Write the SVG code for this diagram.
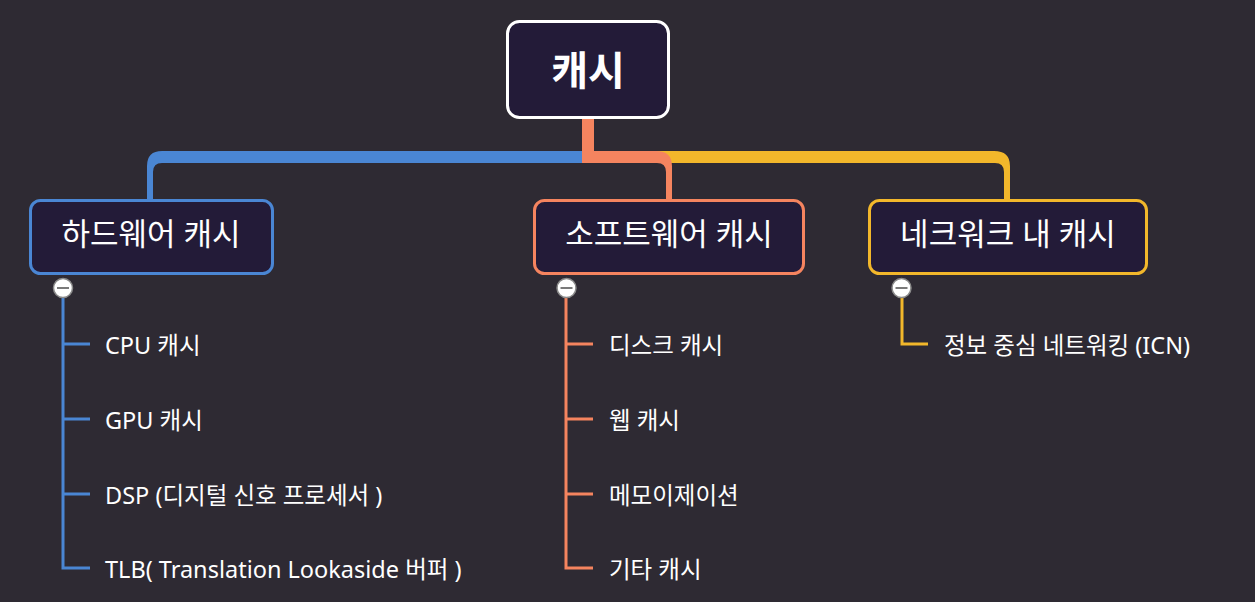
<svg xmlns="http://www.w3.org/2000/svg" width="1255" height="602" viewBox="0 0 1255 602">
<style>
text{font-family:"Noto Sans","Noto Sans CJK KR",sans-serif;fill:#ffffff}
.root{font-size:40px;font-weight:bold}
.main{font-size:31px}
.leaf{font-size:23.5px}
.box{fill:#231b38;stroke-width:3}
.tree{fill:none;stroke-width:3}
.tog circle{fill:#ffffff;stroke:#8a8a8a;stroke-width:1.5}
.tog line{stroke:#7a7a7a;stroke-width:2}
</style>
<rect x="0" y="0" width="1255" height="602" fill="#2e2a33"/>
<g id="connectors">
<path d="M588,151 L162,151 Q147,151 147,166 L147,200 L153,200 L153,172 Q153,163 162,163 L588,163 Z" fill="#4a86d4"/>
<path d="M588,151 L994,151 Q1010,151 1010,166 L1010,200 L1004,200 L1004,172 Q1004,163 995,163 L588,163 Z" fill="#f2b72b"/>
<path d="M582,118 L594,118 L594,151 L656,151 Q672,151 672,166 L672,200 L666,200 L666,172 Q666,163 657,163 L582,163 Z" fill="#f5845f"/>
<g class="tree" stroke="#4a86d4">
<path d="M63,298 L63,568 L90,568 M63,344 L90,344 M63,419 L90,419 M63,494 L90,494"/>
</g>
<g class="tree" stroke="#f5845f">
<path d="M566,298 L566,568 L593,568 M566,344 L593,344 M566,419 L593,419 M566,494 L593,494"/>
</g>
<g class="tree" stroke="#f2b72b">
<path d="M902,298 L902,344 L928,344"/>
</g>
</g>
<g id="root">
<rect x="507.5" y="21.5" width="161" height="96" rx="12" class="box" stroke="#ffffff"/>
<text x="588" y="85" text-anchor="middle" class="root">캐시</text>
</g>
<g id="hardware">
<rect x="30.5" y="200.5" width="242" height="73" rx="10" class="box" stroke="#4a86d4"/>
<text x="151" y="245" text-anchor="middle" class="main">하드웨어 캐시</text>
<g class="tog"><circle cx="63" cy="288" r="9.5"/><line x1="57" y1="288" x2="69" y2="288"/></g>
</g>
<g id="software">
<rect x="534.5" y="200.5" width="269" height="73" rx="10" class="box" stroke="#f5845f"/>
<text x="669" y="245" text-anchor="middle" class="main">소프트웨어 캐시</text>
<g class="tog"><circle cx="566.5" cy="288" r="9.5"/><line x1="560.5" y1="288" x2="572.5" y2="288"/></g>
</g>
<g id="network">
<rect x="869.5" y="200.5" width="277" height="73" rx="10" class="box" stroke="#f2b72b"/>
<text x="1008" y="245" text-anchor="middle" class="main">네크워크 내 캐시</text>
<g class="tog"><circle cx="901.5" cy="288" r="9.5"/><line x1="895.5" y1="288" x2="907.5" y2="288"/></g>
</g>
<g id="cpu"><text x="105" y="354" class="leaf">CPU 캐시</text></g>
<g id="gpu"><text x="105" y="429" class="leaf">GPU 캐시</text></g>
<g id="dsp"><text x="105" y="504" class="leaf">DSP (디지털 신호 프로세서 )</text></g>
<g id="tlb"><text x="105" y="578" class="leaf">TLB( Translation Lookaside 버퍼 )</text></g>
<g id="disk"><text x="609" y="354" class="leaf">디스크 캐시</text></g>
<g id="web"><text x="609" y="429" class="leaf">웹 캐시</text></g>
<g id="memo"><text x="609" y="504" class="leaf">메모이제이션</text></g>
<g id="etc"><text x="609" y="578" class="leaf">기타 캐시</text></g>
<g id="icn"><text x="944" y="354" class="leaf">정보 중심 네트워킹 (ICN)</text></g>
</svg>
